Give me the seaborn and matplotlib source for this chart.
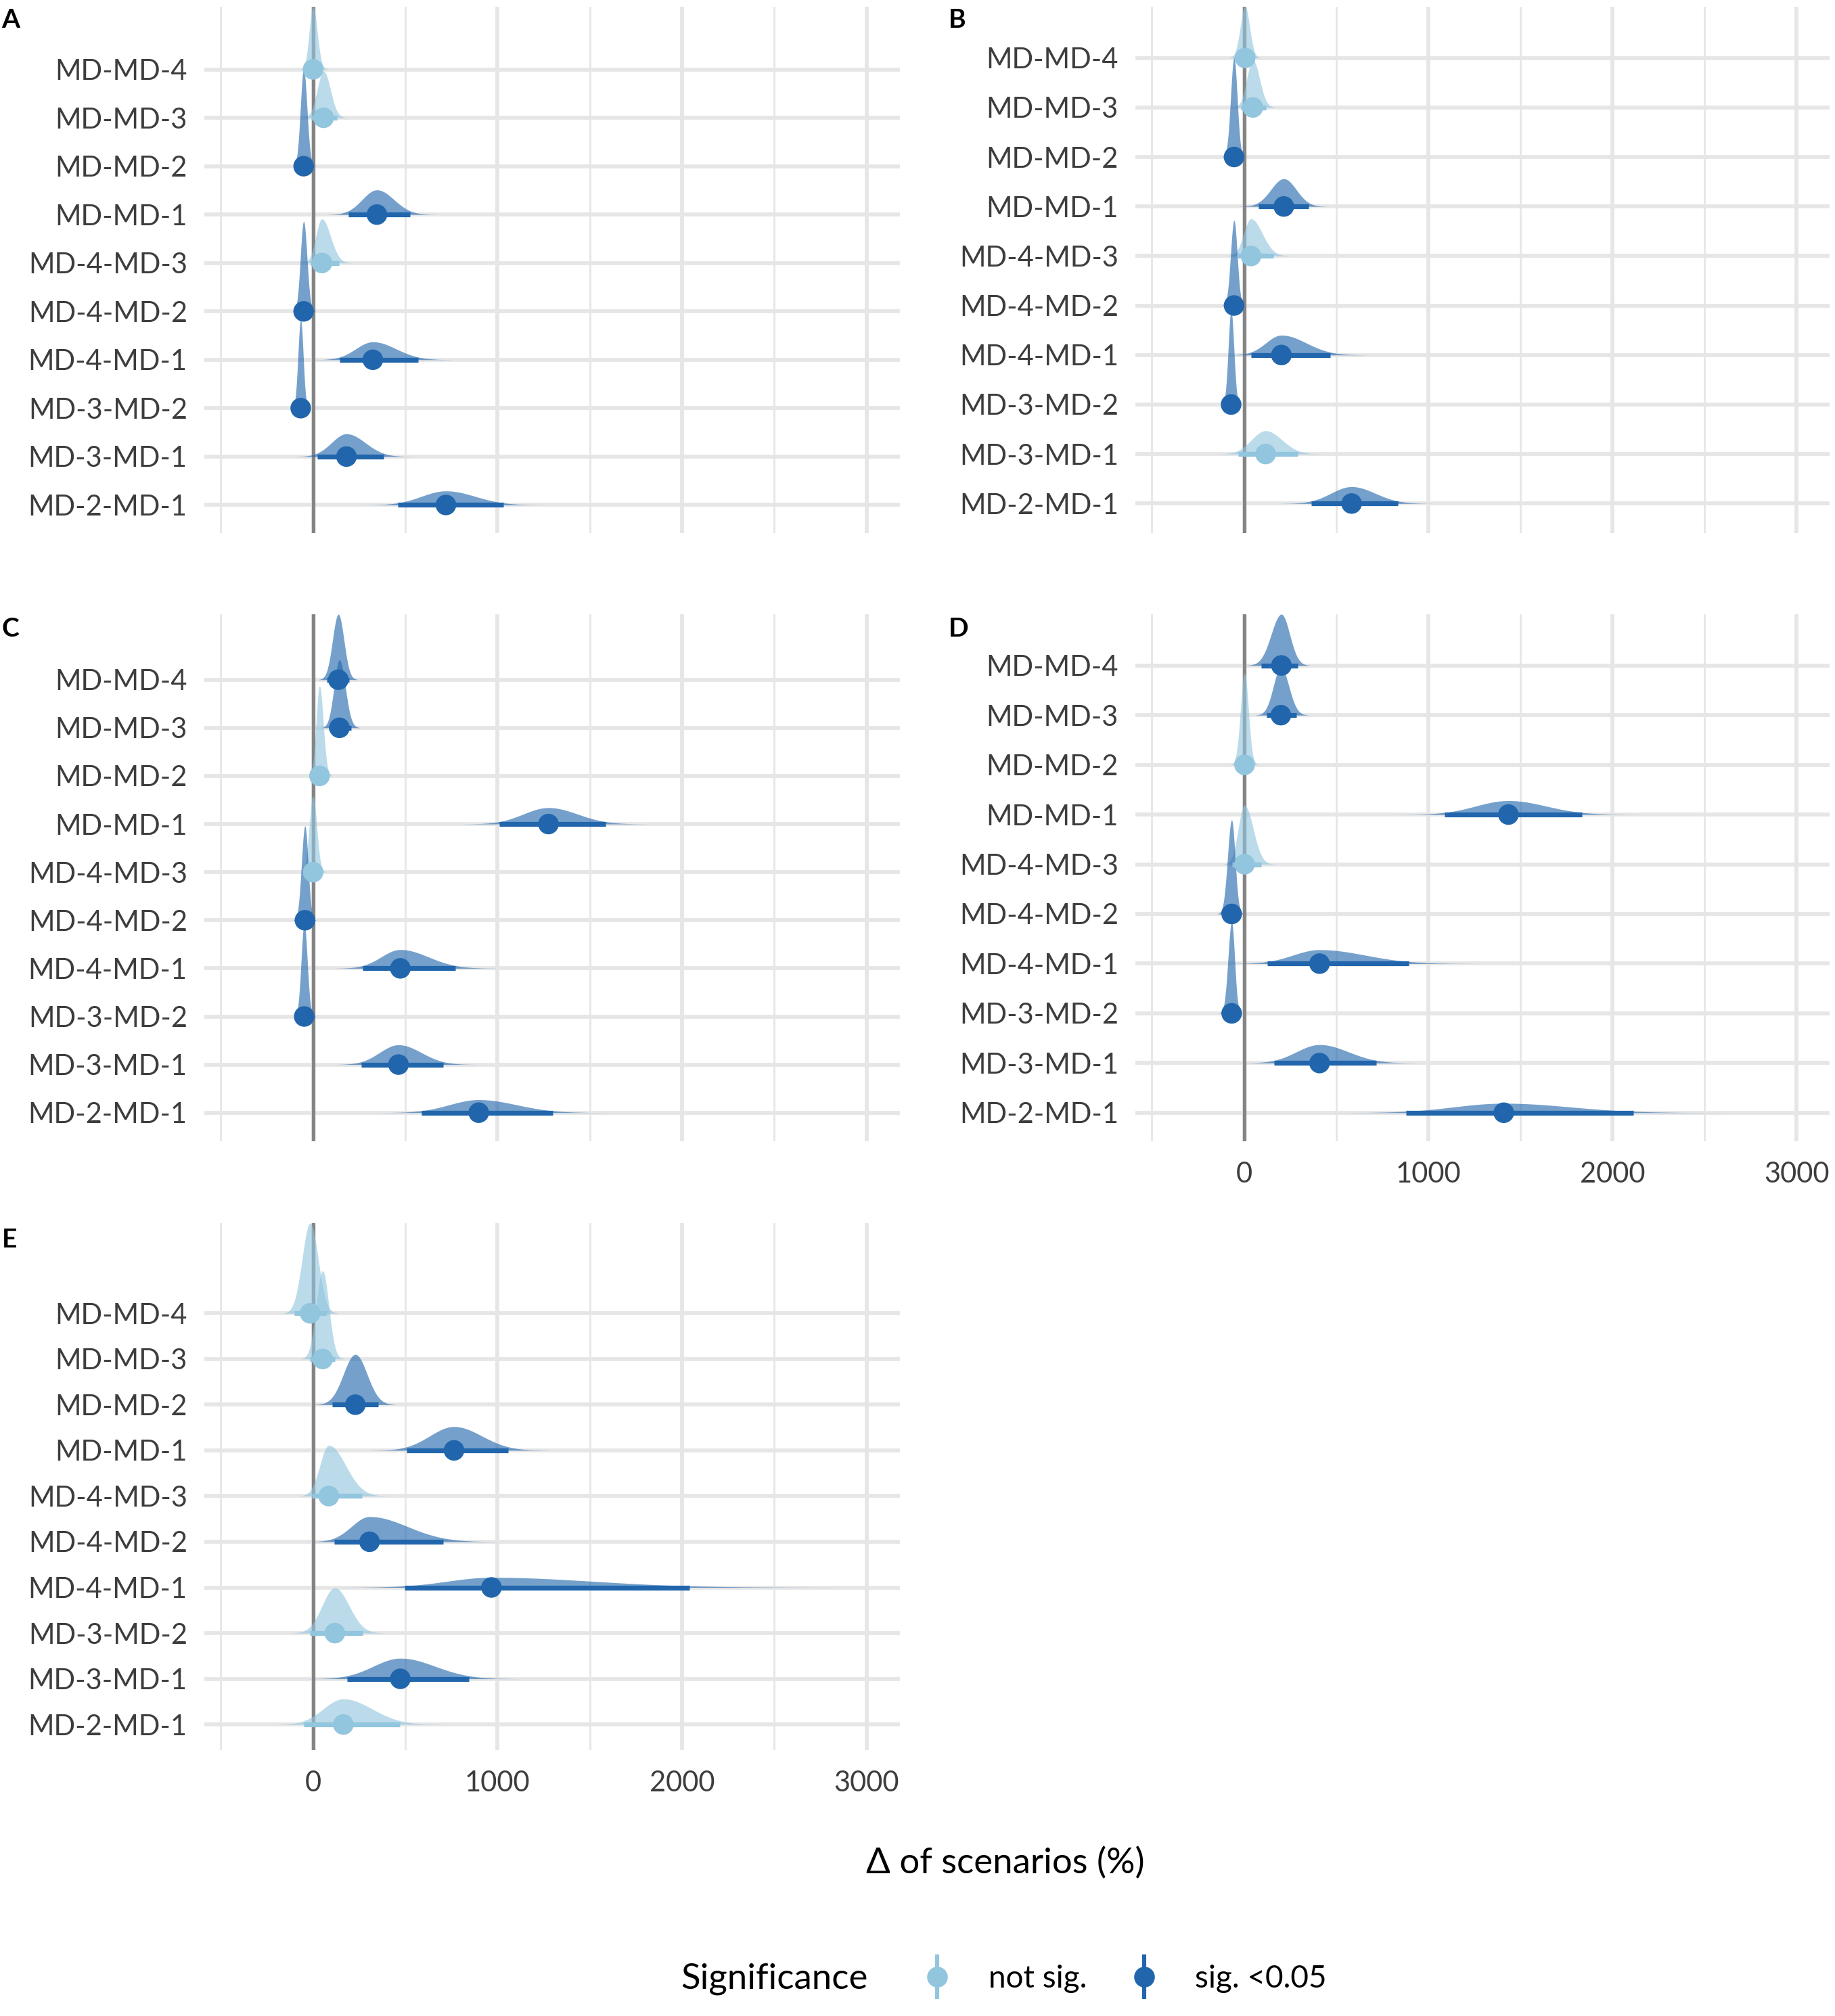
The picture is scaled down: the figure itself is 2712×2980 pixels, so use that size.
import numpy as np
import pandas as pd
import matplotlib.pyplot as plt
from matplotlib.lines import Line2D
from matplotlib.legend_handler import HandlerTuple
import seaborn as sns

sns.set_theme(style="white")
plt.rcParams["font.family"] = ["Lato", "DejaVu Sans"]

# comparisons, top to bottom
LABELS = ["MD-MD-4", "MD-MD-3", "MD-MD-2", "MD-MD-1", "MD-4-MD-3",
          "MD-4-MD-2", "MD-4-MD-1", "MD-3-MD-2", "MD-3-MD-1", "MD-2-MD-1"]

# panel A: median, 95% interval, significance (1 = sig.), density peak (rows)
med_A = [0, 57, -51, 346, 48, -51, 324, -67, 181, 720]
lo_A = [-40, -10, -85, 190, -15, -85, 143, -95, 22, 460]
hi_A = [45, 130, -15, 527, 140, -15, 571, -40, 381, 1032]
sig_A = [0, 0, 1, 1, 0, 1, 1, 1, 1, 1]
peak_A = [1.3, 0.96, 2.0, 0.51, 0.91, 1.86, 0.37, 1.83, 0.47, 0.29]

# panel B
med_B = [6, 48, -54, 216, 38, -54, 203, -70, 117, 584]
lo_B = [-45, -15, -90, 79, -38, -90, 38, -100, -32, 365]
hi_B = [55, 120, -20, 349, 159, -20, 467, -40, 292, 835]
sig_B = [0, 0, 1, 1, 0, 1, 1, 1, 0, 1]
peak_B = [1.04, 0.96, 2.0, 0.56, 0.75, 1.72, 0.40, 1.9, 0.47, 0.34]

# panel C
med_C = [137, 143, 35, 1276, 0, -44, 473, -48, 463, 898]
lo_C = [76, 86, 0, 1010, -40, -80, 270, -80, 263, 587]
hi_C = [197, 206, 75, 1584, 40, -10, 771, -15, 705, 1298]
sig_C = [1, 1, 0, 1, 0, 1, 1, 1, 1, 1]
peak_C = [1.36, 1.41, 1.87, 0.34, 1.58, 1.96, 0.39, 1.93, 0.41, 0.27]

# panel D
med_D = [203, 200, 3, 1435, 3, -67, 410, -67, 410, 1410]
lo_D = [95, 121, -40, 1089, -63, -110, 127, -105, 165, 879]
hi_D = [292, 286, 45, 1835, 95, -30, 895, -35, 717, 2114]
sig_D = [1, 1, 0, 1, 0, 1, 1, 1, 1, 1]
peak_D = [1.03, 0.96, 1.84, 0.28, 1.19, 1.89, 0.28, 1.84, 0.37, 0.19]

# panel E
med_E = [-16, 52, 229, 764, 85, 306, 967, 118, 473, 164]
lo_E = [-100, -16, 103, 507, -8, 115, 496, -16, 185, -49]
hi_E = [70, 118, 355, 1059, 265, 707, 2041, 270, 843, 471]
sig_E = [0, 0, 1, 1, 0, 1, 1, 0, 1, 0]
peak_E = [1.97, 1.93, 1.1, 0.52, 1.11, 0.55, 0.22, 0.99, 0.45, 0.56]

SIG_NAMES = {0: "not sig.", 1: "sig. <0.05"}
POINT_COLORS = {"not sig.": "#92C5DE", "sig. <0.05": "#2166AC"}

panels = {
    "A": (med_A, lo_A, hi_A, sig_A, peak_A),
    "B": (med_B, lo_B, hi_B, sig_B, peak_B),
    "C": (med_C, lo_C, hi_C, sig_C, peak_C),
    "D": (med_D, lo_D, hi_D, sig_D, peak_D),
    "E": (med_E, lo_E, hi_E, sig_E, peak_E),
}

frames = []
for name, (med, lo, hi, sig, peak) in panels.items():
    frames.append(pd.DataFrame({
        "panel": name, "label": LABELS, "med": med, "lo": lo, "hi": hi,
        "sig": [SIG_NAMES[s] for s in sig], "peak": peak,
        "pos": np.arange(len(LABELS), 0, -1),
    }))
df = pd.concat(frames, ignore_index=True)

# axes layout [left, bottom, width, height] and lower y limit
layout = {
    "A": ([0.1113, 0.7355, 0.379, 0.2613], 0.416),
    "B": ([0.6187, 0.7355, 0.3785, 0.2613], 0.40),
    "C": ([0.1113, 0.4340, 0.379, 0.2613], 0.41),
    "D": ([0.6187, 0.4340, 0.3785, 0.2613], 0.43),
    "E": ([0.1113, 0.1319, 0.379, 0.2613], 0.44),
}
show_x = {"D", "E"}

TEXT_COL = "#3D3D3D"
GRID_COL = "#E6E6E6"


def half_eye(ax, row):
    # two-piece normal slab built from the median and 95% interval
    sl = max(row.med - row.lo, 1) / 1.96
    sr = max(row.hi - row.med, 1) / 1.96
    xs = np.linspace(row.med - 3.4 * sl, row.med + 3.4 * sr, 400)
    sd = np.where(xs < row.med, sl, sr)
    dens = np.exp(-0.5 * ((xs - row.med) / sd) ** 2)
    ax.fill_between(xs, row.pos, row.pos + row.peak * dens,
                    color=POINT_COLORS[row.sig], alpha=0.62, lw=0, zorder=3)


fig = plt.figure(figsize=(13.56, 14.9), dpi=200)

for name, (rect, ybot) in layout.items():
    ax = fig.add_axes(rect)
    sub = df[df.panel == name]

    for row in sub.itertuples():
        half_eye(ax, row)

    ax.hlines(sub.pos, sub.lo, sub.hi,
              colors=[POINT_COLORS[s] for s in sub.sig], lw=2.6, zorder=4)
    sns.scatterplot(data=sub, x="med", y="pos", hue="sig",
                    palette=POINT_COLORS, s=120, linewidth=0, legend=False,
                    ax=ax, zorder=5)

    ax.axvline(0, color="#858585", lw=1.9, zorder=2)

    ax.set_xlim(-590, 3180)
    ax.set_ylim(ybot, (sub.pos + sub.peak).max())
    ax.set_yticks(sub.pos)
    ax.set_yticklabels(sub.label)
    ax.set_xticks([0, 1000, 2000, 3000])
    ax.set_xticks([-500, 500, 1500, 2500], minor=True)
    if name in show_x:
        ax.set_xticklabels(["0", "1000", "2000", "3000"])
    else:
        ax.set_xticklabels([])

    ax.grid(True, which="major", color=GRID_COL, lw=2.1, zorder=0)
    ax.grid(True, which="minor", axis="x", color=GRID_COL, lw=1.0, zorder=0)
    ax.set_axisbelow(True)
    for sp in ax.spines.values():
        sp.set_visible(False)
    ax.tick_params(axis="both", which="both", length=0, colors=TEXT_COL,
                   labelsize=15)
    ax.tick_params(axis="y", pad=9)
    ax.tick_params(axis="x", pad=11)
    ax.set_xlabel("")
    ax.set_ylabel("")

# panel tags
tags = {"A": (0.001, 0.996), "B": (0.517, 0.996), "C": (0.001, 0.694),
        "D": (0.517, 0.694), "E": (0.001, 0.391)}
for t, (x, y) in tags.items():
    fig.text(x, y, t, fontsize=14, fontweight="bold", ha="left", va="top",
             color="black")

fig.text(0.548, 0.0758, "Δ of scenarios (%)", ha="center", va="center",
         fontsize=19, color="black")

# legend
fig.text(0.371, 0.0185, "Significance", ha="left", va="center",
         fontsize=19, color="black")
handles = []
for lab in ["not sig.", "sig. <0.05"]:
    c = POINT_COLORS[lab]
    vline = Line2D([], [], color=c, marker="|", markersize=24,
                   markeredgewidth=2.2, linestyle="none")
    dot = Line2D([], [], color=c, marker="o", markersize=10, linestyle="none")
    handles.append((vline, dot))
fig.legend(handles, ["not sig.", "sig. <0.05"], loc="center left",
           bbox_to_anchor=(0.487, 0.0185), ncol=2, frameon=False,
           handler_map={tuple: HandlerTuple(ndivide=1, pad=0)},
           fontsize=16.5, handlelength=1.0, handletextpad=1.15,
           columnspacing=1.35, labelcolor="black")

fig.savefig("out.png", dpi=200, facecolor="white")
